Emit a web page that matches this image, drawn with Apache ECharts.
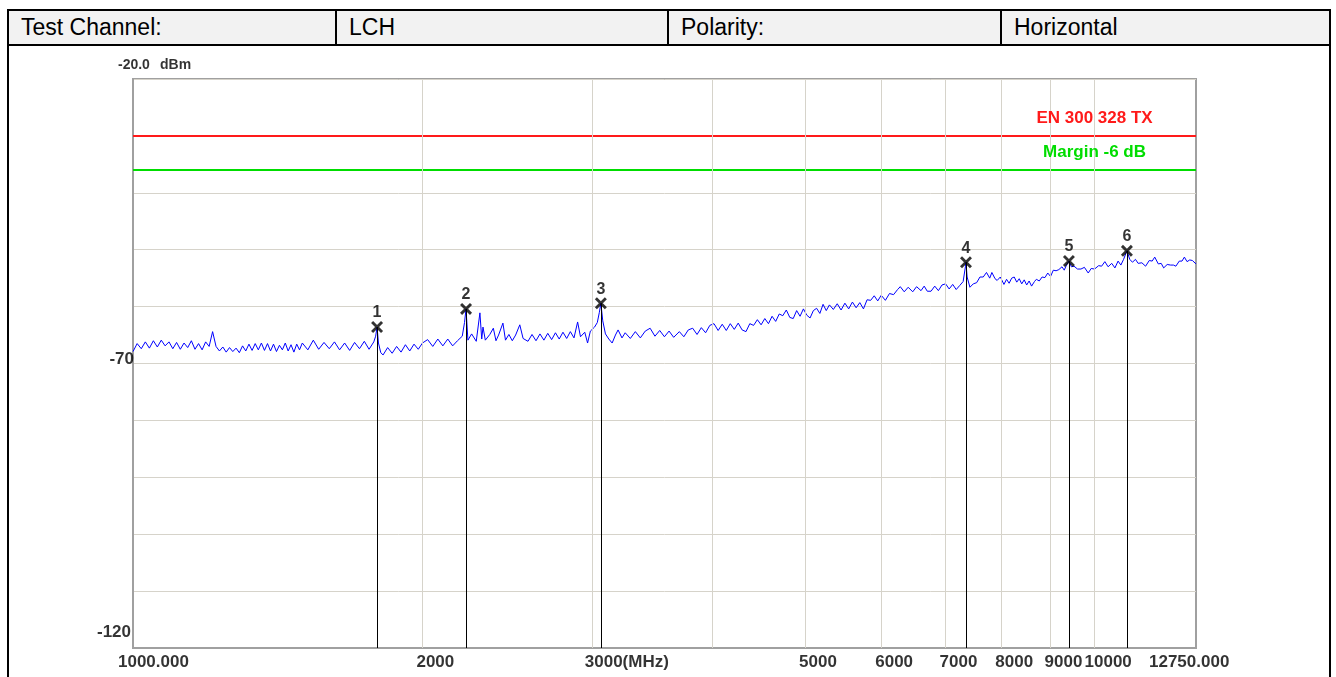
<!DOCTYPE html>
<html>
<head>
<meta charset="utf-8">
<script src="https://cdn.jsdelivr.net/npm/echarts@6/dist/echarts.min.js"></script>
<style>
html,body{margin:0;padding:0;background:#fff;}
#wrap{position:relative;width:1336px;height:677px;overflow:hidden;}
#chart{position:absolute;left:0;top:0;width:1336px;height:677px;}
#hdr{position:absolute;left:7px;top:9px;width:1320px;height:33px;border:2px solid #000;display:flex;background:#f2f2f2;font-family:'Liberation Sans',Arial,sans-serif;font-size:23px;color:#000;z-index:5;}
.c{box-sizing:border-box;height:100%;padding-left:12px;display:flex;align-items:center;border-right:2px solid #000;}
.c:last-child{border-right:none;}
.vb{position:absolute;top:44px;bottom:0;width:2px;background:#000;z-index:5;}
</style>
</head>
<body>
<div id="wrap">
  <div id="chart"></div>
  <div id="hdr">
    <div class="c" style="width:328px">Test Channel:</div>
    <div class="c" style="width:332px">LCH</div>
    <div class="c" style="width:333px">Polarity:</div>
    <div class="c" style="flex:1">Horizontal</div>
  </div>
  <div class="vb" style="left:7px"></div>
  <div class="vb" style="left:1329px"></div>
</div>
<script>
// ---------------- DATA ----------------
const freqMHz = [
1000,1010,1020,1030,1040,1050,1060,1070,1080,1090,1100,1110,1120,1130,1140,1150,1160,1170,1180,1190,
1200,1210,1220,1230,1240,1250,1260,1270,1280,1290,1300,1310,1320,1330,1340,1350,1360,1370,1380,1390,
1400,1410,1420,1430,1440,1450,1460,1470,1480,1490,1500,
1520,1540,1560,1580,1600,1620,1640,1660,1680,1700,1720,1740,1760,1780,1788,1794,1800,1810,1820,1840,
1860,1880,1900,1920,1940,1960,1980,2000,
2025,2050,2075,2100,2125,2150,2175,2200,2212,2220,2230,2250,2275,2295,2305,2312,2325,2350,2370,2385,
2400,2425,2440,2460,2480,2500,2525,2545,2575,2600,2625,2650,2675,2700,2725,2750,2775,2800,2825,2850,
2875,2900,2920,2950,2970,2990,3020,3040,3055,3066,3080,3100,3125,3150,3175,3195,3225,
3250,3290,3330,3370,3410,3450,3490,3530,3570,3610,3650,3700,3740,3780,3820,3860,3900,3940,3980,4020,
4060,4100,4140,4180,4220,4260,4300,4340,4380,4420,4460,4500,4540,4580,4620,4660,4700,4740,4780,4820,
4860,4900,4940,4980,5020,5060,5100,5140,5180,5220,5260,5300,5350,5400,5450,5500,5550,5600,5650,5700,
5750,5800,5850,5900,5950,6000,6060,6120,6180,6240,6280,6340,6400,6470,6530,6600,6650,6700,6760,6820,
6880,6940,7000,7060,7120,7180,7240,7300,7340,7350,7370,7420,7480,7540,7600,7660,7720,7780,7820,7880,
7920,7980,8050,8100,8150,8200,8250,8300,8350,8400,8450,8500,8550,8600,8660,8700,8760,8820,8880,8940,
9000,9060,9120,9180,9250,9300,9350,9405,9460,9520,9600,9680,9760,9850,9920,10000,10100,10170,10250,10330,
10420,10500,10580,10650,10720,10806,10880,10950,11030,11100,11200,11300,11400,11480,11550,11650,11730,11800,11900,12000,
12080,12150,12250,12330,12400,12480,12560,12640,12700,12750
];
const levelDbm = [
-67.9,-66.5,-67.4,-66.2,-67.3,-66.0,-67.1,-65.9,-66.9,-66.2,-67.4,-66.3,-67.5,-66.4,-67.2,-66.0,-67.5,-66.5,-67.6,-66.2,
-67.0,-64.4,-67.0,-67.8,-67.1,-68.0,-67.2,-67.9,-67.3,-68.1,-66.9,-67.8,-66.6,-67.7,-66.5,-67.6,-66.4,-67.7,-66.5,-67.8,
-66.6,-67.9,-66.8,-67.6,-66.4,-67.8,-66.7,-68.0,-66.6,-67.6,-66.4,
-67.6,-65.9,-67.5,-66.3,-67.4,-66.2,-67.6,-66.4,-67.7,-66.3,-67.4,-66.1,-67.5,-66.2,-65.2,-63.6,-66.4,-68.1,-68.5,-67.2,
-68.2,-67.0,-68.0,-66.7,-67.8,-66.6,-67.5,-66.4,
-65.8,-67.0,-65.7,-66.9,-65.7,-66.9,-66.0,-65.2,-62.8,-60.4,-65.9,-64.8,-66.1,-61.1,-65.7,-63.6,-65.9,-64.9,-63.8,-66.0,
-65.0,-62.9,-65.9,-64.9,-66.0,-65.0,-63.2,-65.6,-66.1,-64.9,-66.0,-64.8,-65.9,-64.7,-65.8,-64.6,-65.7,-64.5,-65.6,-64.4,
-65.5,-62.7,-65.3,-64.5,-66.4,-64.3,-63.6,-62.8,-61.0,-59.4,-62.5,-64.8,-65.7,-66.4,-65.0,-64.1,-65.5,
-64.6,-65.6,-64.4,-65.5,-64.3,-63.8,-65.2,-64.2,-65.3,-64.3,-65.4,-64.4,-65.3,-64.1,-63.8,-64.9,-63.7,-64.6,-63.3,-63.0,
-64.2,-63.1,-64.2,-63.0,-64.0,-62.9,-64.1,-64.4,-63.0,-63.3,-62.3,-63.2,-62.1,-63.0,-61.7,-62.6,-61.3,-61.6,-60.6,-61.9,
-62.1,-60.7,-61.7,-60.4,-61.5,-62.0,-60.7,-60.3,-61.2,-59.6,-60.7,-59.7,-60.5,-59.5,-60.6,-59.4,-60.4,-59.2,-60.2,-59.3,
-60.4,-58.8,-58.9,-58.1,-59.0,-58.0,-58.9,-57.7,-57.9,-57.0,-56.5,-57.4,-56.6,-57.4,-56.5,-57.2,-56.4,-57.3,-57.3,-56.4,
-57.2,-56.2,-56.0,-56.9,-56.1,-57.0,-56.3,-55.6,-53.0,-52.2,-54.8,-56.6,-56.0,-55.8,-54.8,-54.8,-54.0,-55.0,-54.0,-55.1,
-55.4,-54.8,-56.1,-55.2,-55.9,-55.0,-54.8,-55.7,-55.1,-56.0,-55.3,-56.2,-55.5,-56.4,-55.6,-55.2,-55.5,-54.8,-54.9,-54.1,
-54.7,-53.6,-53.7,-53.5,-53.0,-53.6,-52.7,-52.0,-53.0,-52.9,-53.4,-53.4,-53.1,-54.1,-53.3,-53.4,-52.8,-52.9,-52.1,-53.0,
-52.4,-53.2,-52.0,-52.7,-51.7,-50.2,-51.7,-52.2,-51.7,-52.4,-52.3,-52.9,-51.9,-52.0,-51.3,-52.5,-52.4,-53.2,-52.6,-52.7,
-52.7,-52.9,-52.0,-52.0,-51.3,-52.1,-51.8,-51.9,-52.1,-52.5
];
const markerNo = ['1','2','3','4','5','6'];
const markerFreq = [1794, 2220, 3066, 7350, 9405, 10806];
const markerLevel = [-63.6, -60.4, -59.4, -52.2, -52.0, -50.2];
const limitNames = ['EN 300 328 TX', 'Margin -6 dB'];
const limitLevels = [-30, -36];
const freqRange = [1000, 12750];
const levelRange = [-120, -20];
const xTickValues = [1000, 2000, 3000, 5000, 6000, 7000, 8000, 9000, 10000, 12750];
const xTickLabels = ['1000.000', '2000', '3000(MHz)', '5000', '6000', '7000', '8000', '9000', '10000', '12750.000'];
const xGridValues = [2000, 3000, 4000, 5000, 6000, 7000, 8000, 9000, 10000];
const yTickValues = [-20, -70, -120];
const yTickLabels = ['-20.0', '-70', '-120'];
const yUnit = 'dBm';

// ---------------- CHART ----------------
const F = "'Liberation Sans', Arial, sans-serif";
const chart = echarts.init(document.getElementById('chart'), null, {renderer: 'canvas'});
const xShift = {0: -15, 2: -7, 8: -10, 9: -47};
const limitColors = ['#ff1a1a', '#00dd00'];

const traceData = freqMHz.map((f, i) => [f, levelDbm[i]]);

const option = {
  animation: false,
  backgroundColor: '#ffffff',
  grid: {left: 133, right: 140, top: 79, bottom: 29, show: true, borderColor: '#a0a0a0', borderWidth: 2, backgroundColor: 'transparent', outerBoundsMode: 'none'},
  xAxis: {
    type: 'log', logBase: 10, min: freqRange[0], max: freqRange[1],
    axisLine: {show: true, lineStyle: {color: '#a0a0a0', width: 2}},
    axisTick: {show: false}, axisLabel: {show: false}, splitLine: {show: false}, minorSplitLine: {show: false}
  },
  yAxis: {
    type: 'value', min: levelRange[0], max: levelRange[1], interval: 10,
    axisLine: {show: true, lineStyle: {color: '#a0a0a0', width: 2}},
    axisTick: {show: false}, axisLabel: {show: false},
    splitLine: {show: true, lineStyle: {color: '#d6d3ca', width: 1}}
  },
  series: [
    {
      type: 'line', name: 'vgrid', z: 1, silent: true, symbol: 'none',
      data: [], lineStyle: {opacity: 0},
      markLine: {
        silent: true, symbol: 'none', animation: false, label: {show: false},
        lineStyle: {color: '#d6d3ca', width: 1, type: 'solid'},
        data: xGridValues.map(v => ({xAxis: v}))
      }
    },
    ...limitLevels.map((lv, i) => ({
      type: 'line', name: limitNames[i], z: 2, silent: true, symbol: 'none',
      data: [[freqRange[0], lv], [freqRange[1], lv]],
      lineStyle: {color: limitColors[i], width: 2}
    })),
    {
      type: 'line', name: 'Trace', z: 4, silent: true, symbol: 'none',
      data: traceData, lineStyle: {color: '#0000ff', width: 1}
    },
    {
      type: 'scatter', name: 'Markers', z: 6, silent: true, clip: false,
      data: markerFreq.map((f, i) => [f, markerLevel[i]]),
      symbol: 'path://M0,1.7 L1.7,0 L10,8.3 L8.3,10 Z M8.3,0 L10,1.7 L1.7,10 L0,8.3 Z',
      symbolSize: 12,
      itemStyle: {color: '#000'},
      label: {show: true, position: 'inside', offset: [0, -14], formatter: p => markerNo[p.dataIndex],
        color: '#000', textBorderWidth: 0, fontFamily: F, fontSize: 16, fontWeight: 'bold'},
      markLine: {
        silent: true, symbol: 'none', animation: false, label: {show: false},
        lineStyle: {color: '#000', width: 1, type: 'solid'},
        data: markerFreq.map((f, i) => [{coord: [f, markerLevel[i]]}, {coord: [f, levelRange[0]]}])
      }
    },
    {
      type: 'scatter', name: 'limitLabels', z: 6, silent: true, clip: false,
      symbolSize: 1, itemStyle: {color: '#fff', opacity: 0},
      data: limitLevels.map((lv, i) => ({
        value: [10000, lv],
        label: {show: true, position: 'inside', offset: [0, -18], formatter: limitNames[i], opacity: 1,
          color: limitColors[i], textBorderWidth: 0, fontFamily: F, fontSize: 17, fontWeight: 'bold', align: 'center', verticalAlign: 'middle'}
      }))
    },
    {
      type: 'scatter', name: 'xTicks', z: 6, silent: true, clip: false,
      symbolSize: 1, itemStyle: {color: 'transparent'},
      data: xTickValues.map((v, i) => ({
        value: [v, levelRange[0]],
        label: {show: true, position: 'inside', offset: [xShift[i] !== undefined ? xShift[i] : -6, 14],
          formatter: xTickLabels[i], align: 'left', verticalAlign: 'middle', textBorderWidth: 0,
          color: '#000', fontFamily: F, fontSize: 17, fontWeight: 'bold'}
      }))
    },
    {
      type: 'scatter', name: 'yTicks', z: 6, silent: true, clip: false,
      symbolSize: 1, itemStyle: {color: 'transparent'},
      data: yTickValues.map((v, i) => {
        const top = (i === 0);
        const bottom = (i === yTickValues.length - 1);
        return {
          value: [freqRange[0], v],
          label: {show: true, position: 'inside',
            offset: top ? [-15, -14] : (bottom ? [-2, -16] : [1, -4]),
            formatter: yTickLabels[i], align: top ? 'left' : 'right', verticalAlign: 'middle', textBorderWidth: 0,
            color: '#000', fontFamily: F, fontSize: top ? 14 : 17, fontWeight: 'bold'}
        };
      }).concat([{
        value: [freqRange[0], levelRange[1]],
        label: {show: true, position: 'inside', offset: [27, -14], formatter: yUnit, textBorderWidth: 0,
          align: 'left', verticalAlign: 'middle', color: '#000', fontFamily: F, fontSize: 14, fontWeight: 'bold'}
      }])
    }
  ]
};
chart.setOption(option);
</script>
</body>
</html>
